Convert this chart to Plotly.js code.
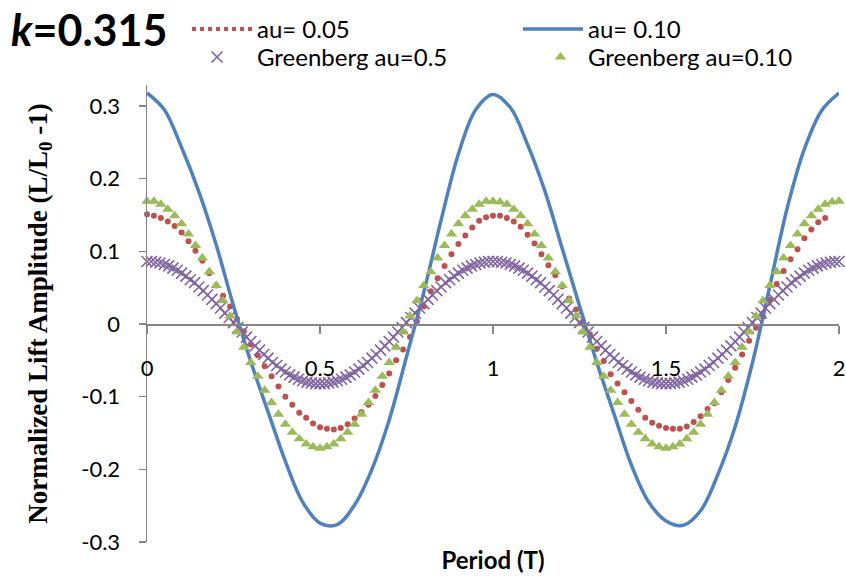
<!DOCTYPE html>
<html>
<head>
<meta charset="utf-8">
<script src="https://cdn.plot.ly/plotly-3.0.1.min.js"></script>
<style>html,body{margin:0;padding:0;background:#fff;}#chart{width:846px;height:580px;}</style>
</head>
<body>
<div id="chart"></div>
<script>
// Period (T) sampling of each series: start and step
const redStart = 0, redStep = 0.02;
const blueStart = 0, blueStep = 0.05;
const purpleStart = 0, purpleStep = 0.0125;
const greenStart = 0, greenStep = 0.02;

// au = 0.05
const au005 = [0.151,0.149,0.146,0.141,0.135,0.126,0.114,0.101,0.087,0.070,0.053,0.039,0.024,0.007,-0.010,-0.028,-0.043,-0.058,-0.072,-0.086,-0.100,-0.111,-0.122,-0.129,-0.137,-0.142,-0.144,-0.145,-0.143,-0.138,-0.130,-0.121,-0.111,-0.099,-0.084,-0.068,-0.050,-0.035,-0.018,0.004,0.024,0.045,0.063,0.080,0.096,0.110,0.122,0.133,0.142,0.147,0.149,
0.149,0.146,0.141,0.134,0.123,0.111,0.096,0.081,0.067,0.052,0.035,0.020,0.003,-0.014,-0.034,-0.051,-0.069,-0.082,-0.094,-0.106,-0.118,-0.129,-0.136,-0.140,-0.143,-0.144,-0.144,-0.141,-0.135,-0.127,-0.117,-0.109,-0.094,-0.077,-0.060,-0.042,-0.023,-0.005,0.010,0.033,0.055,0.073,0.089,0.103,0.118,0.130,0.140,0.146];

// au = 0.10
const au010 = [0.318,0.295,0.243,0.182,0.109,0.025,-0.052,-0.121,-0.189,-0.245,-0.274,-0.276,-0.249,-0.200,-0.132,-0.045,0.044,0.143,0.234,0.295,0.316,0.298,0.247,0.183,0.104,0.025,-0.053,-0.124,-0.194,-0.245,-0.271,-0.277,-0.257,-0.207,-0.141,-0.053,0.052,0.159,0.241,0.294,0.318];

// Greenberg au = 0.5
const greenberg05 = [0.086,0.086,0.085,0.084,0.082,0.080,0.077,0.074,0.070,0.066,0.061,0.057,0.051,0.046,0.040,0.034,0.028,0.022,0.015,0.009,0.002,-0.005,-0.011,-0.018,-0.024,-0.030,-0.036,-0.042,-0.047,-0.053,-0.057,-0.062,-0.066,-0.070,-0.073,-0.076,-0.078,-0.080,-0.081,-0.082,-0.082,
-0.082,-0.081,-0.080,-0.078,-0.076,-0.073,-0.070,-0.066,-0.062,-0.057,-0.053,-0.047,-0.042,-0.036,-0.030,-0.024,-0.018,-0.011,-0.005,0.002,0.009,0.015,0.022,0.028,0.034,0.040,0.046,0.051,0.057,0.061,0.066,0.070,0.074,0.077,0.080,0.082,0.084,0.085,0.086,0.086,
0.086,0.085,0.084,0.082,0.080,0.077,0.074,0.070,0.066,0.061,0.057,0.051,0.046,0.040,0.034,0.028,0.022,0.015,0.009,0.002,-0.005,-0.011,-0.018,-0.024,-0.030,-0.036,-0.042,-0.047,-0.053,-0.057,-0.062,-0.066,-0.070,-0.073,-0.076,-0.078,-0.080,-0.081,-0.082,-0.082,
-0.082,-0.081,-0.080,-0.078,-0.076,-0.073,-0.070,-0.066,-0.062,-0.057,-0.053,-0.047,-0.042,-0.036,-0.030,-0.024,-0.018,-0.011,-0.005,0.002,0.009,0.015,0.022,0.028,0.034,0.040,0.046,0.051,0.057,0.061,0.066,0.070,0.074,0.077,0.080,0.082,0.084,0.085,0.086,0.086];

// Greenberg au = 0.10
const greenberg010 = [0.169,0.169,0.165,0.158,0.149,0.138,0.124,0.108,0.091,0.072,0.053,0.032,0.011,-0.011,-0.032,-0.053,-0.072,-0.091,-0.108,-0.124,-0.138,-0.149,-0.158,-0.165,-0.169,-0.171,-0.169,-0.165,-0.158,-0.149,-0.138,-0.124,-0.108,-0.091,-0.072,-0.053,-0.032,-0.011,0.011,0.032,0.053,0.072,0.091,0.108,0.124,0.138,0.149,0.158,0.165,0.169,0.169,
0.168,0.165,0.158,0.149,0.138,0.124,0.108,0.091,0.072,0.053,0.032,0.011,-0.011,-0.032,-0.053,-0.072,-0.091,-0.108,-0.124,-0.138,-0.149,-0.158,-0.165,-0.169,-0.171,-0.169,-0.165,-0.158,-0.149,-0.138,-0.124,-0.108,-0.091,-0.072,-0.053,-0.032,-0.011,0.011,0.032,0.053,0.072,0.091,0.108,0.124,0.138,0.149,0.158,0.165,0.168,0.169];

const xTickVals = [0, 0.5, 1, 1.5, 2];
const xTickText = ["0", "0.5", "1", "1.5", "2"];
const yTickVals = [-0.3, -0.2, -0.1, 0, 0.1, 0.2, 0.3];
const yTickText = ["-0.3", "-0.2", "-0.1", "0", "0.1", "0.2", "0.3"];

const seriesNames = ["au= 0.05", "au= 0.10", "Greenberg au=0.5", "Greenberg au=0.10"];
const RED = "#C0504D", BLUE = "#4F81BD", PURPLE = "#8064A2", GREEN = "#9BBB59";
const AXIS = "#868686";
const SANS = "Lato, 'Liberation Sans', sans-serif";

const traces = [
  {type: "scatter", mode: "markers", x0: redStart, dx: redStep, y: au005,
   marker: {color: RED, size: 6}, showlegend: false, cliponaxis: false, hoverinfo: "skip"},
  {type: "scatter", mode: "lines", x: [null], y: [null], name: seriesNames[0],
   line: {color: RED, width: 4, dash: "dot"}, legend: "legend"},
  {type: "scatter", mode: "lines", x0: blueStart, dx: blueStep, y: au010, name: seriesNames[1],
   line: {color: BLUE, width: 3.5, shape: "spline"}, legend: "legend2", cliponaxis: false},
  {type: "scatter", mode: "markers", x0: purpleStart, dx: purpleStep, y: greenberg05, name: seriesNames[2],
   marker: {symbol: "x-thin", size: 11, color: PURPLE, line: {color: PURPLE, width: 1.6}},
   legend: "legend3", cliponaxis: false},
  {type: "scatter", mode: "markers", x0: greenStart, dx: greenStep, y: greenberg010, name: seriesNames[3],
   marker: {symbol: "triangle-up", size: 10, color: GREEN}, legend: "legend4", cliponaxis: false}
];

const yMin = -0.3, yMax = 0.329;
const legendFont = {family: SANS, size: 24, color: "#000"};
function legendBox(x, y, iw) {
  return {x: x, y: y, xanchor: "left", yanchor: "middle", orientation: "v", itemwidth: iw,
          bgcolor: "rgba(0,0,0,0)", font: legendFont, tracegroupgap: 0};
}
const layout = {
  width: 846, height: 580,
  margin: {l: 147, r: 7, t: 83, b: 38},
  paper_bgcolor: "#fff", plot_bgcolor: "#fff",
  font: {family: SANS, size: 22, color: "#000"},
  showlegend: true,
  xaxis: {
    range: [0, 2], anchor: "free", position: (0 - yMin) / (yMax - yMin),
    tickvals: xTickVals, ticktext: xTickText,
    showline: true, linecolor: AXIS, linewidth: 1.5,
    ticks: "outside", ticklen: 8, tickwidth: 1.5, tickcolor: AXIS,
    ticklabelstandoff: 16, showgrid: false, zeroline: false,
    tickfont: {family: SANS, size: 22, color: "#000"},
    title: {text: "<b>Period (T)</b>", font: {family: SANS, size: 24, color: "#000"}, standoff: 172}
  },
  yaxis: {
    range: [yMin, yMax], tickvals: yTickVals, ticktext: yTickText,
    showline: true, linecolor: AXIS, linewidth: 1.5,
    ticks: "outside", ticklen: 7, tickwidth: 1.5, tickcolor: AXIS,
    ticklabelstandoff: 14, showgrid: false, zeroline: false,
    tickfont: {family: SANS, size: 22, color: "#000"},
    title: {text: "<b>Normalized Lift Amplitude (L/L<sub>0</sub> -1)</b>",
            font: {family: "'Liberation Serif', 'Times New Roman', serif", size: 27, color: "#000"}, standoff: 26}
  },
  legend: legendBox(0.0578, 1.1214, 60),
  legend2: legendBox(0.5361, 1.1214, 60),
  legend3: legendBox(0.0434, 1.0603, 70),
  legend4: legendBox(0.5578, 1.0603, 45),
  annotations: [{
    text: "<b><i>k</i>=0.315</b>", xref: "paper", yref: "paper",
    x: -0.199, y: 1.121, xanchor: "left", yanchor: "middle", showarrow: false,
    font: {family: SANS, size: 43, color: "#000"}
  }]
};

Plotly.newPlot("chart", traces, layout, {displayModeBar: false, staticPlot: true});
</script>
</body>
</html>
